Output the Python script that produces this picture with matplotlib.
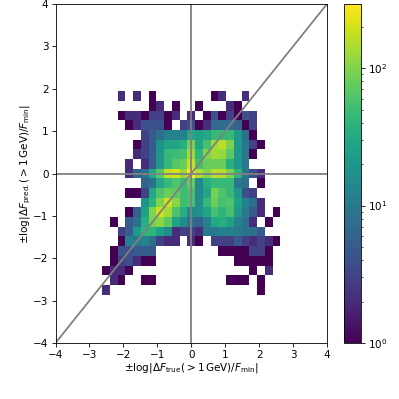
import numpy as np
import matplotlib
matplotlib.use('Agg')
import matplotlib.pyplot as plt
from matplotlib.colors import LogNorm

# 35 bins per axis, rows 9-29 from the top and columns 6-28 are the only filled ones
first_row = 9
first_col = 6
n_bins = 35
counts_rows = [
    [0,0,2,0,2,0,1,0,0,0,0,0,0,0,1,2,0,0,2,0,0,0,0],
    [0,0,0,0,0,0,1,2,0,1,0,0,1,0,0,0,2,1,0,0,0,0,0],
    [0,0,1,2,2,1,3,3,1,2,0,2,0,1,4,1,3,1,4,3,0,0,0],
    [0,0,0,1,2,4,4,4,1,0,3,4,1,2,7,7,7,6,1,3,0,0,0],
    [0,0,0,0,0,3,5,8,12,12,12,30,25,30,45,45,45,20,8,1,0,0,0],
    [0,0,0,0,1,3,5,18,28,28,35,90,28,55,130,160,95,20,10,3,1,0,0],
    [0,0,0,0,2,3,5,20,45,50,55,130,40,100,130,120,70,20,10,1,0,0,0],
    [0,0,0,2,0,2,5,20,45,65,80,180,55,80,80,80,35,20,10,0,0,0,0],
    [0,0,0,2,6,8,30,70,170,200,120,290,150,100,160,160,95,40,10,4,2,0,0],
    [0,0,0,0,0,6,8,30,45,60,45,75,14,35,45,45,45,9,8,0,1,0,0],
    [0,0,0,1,1,3,30,60,80,70,50,55,14,28,90,60,45,20,4,3,0,0,0],
    [0,0,0,0,0,18,40,100,190,110,50,55,17,45,80,55,60,25,12,8,2,0,0],
    [0,0,0,1,6,25,100,190,130,60,35,15,17,28,55,40,55,20,10,5,2,0,1],
    [0,1,0,5,8,35,90,110,70,25,15,8,6,12,30,35,25,12,8,2,0,1,0],
    [0,0,3,5,20,40,40,25,15,2,3,3,2,10,10,12,12,10,8,8,5,0,0],
    [0,0,1,12,10,12,8,3,2,2,0,2,1,0,3,3,3,5,3,2,3,2,1],
    [0,1,4,4,5,5,5,0,0,0,0,0,0,0,0,1,1,1,1,3,3,1,0],
    [0,1,3,4,2,1,1,0,0,0,0,0,0,0,0,0,0,1,1,1,1,1,0],
    [1,2,2,1,0,0,0,0,0,0,0,0,0,0,0,0,0,0,0,1,0,2,0],
    [0,2,1,0,0,1,1,0,0,0,0,0,0,0,0,0,1,1,1,0,1,0,0],
    [2,0,0,0,0,0,0,0,0,0,0,0,0,0,0,0,0,0,0,0,1,0,0],
]
vmin, vmax = 1, 293
ticks = [-4, -3, -2, -1, 0, 1, 2, 3, 4]

plt.rcParams['font.size'] = 7.5

grid = np.zeros((n_bins, n_bins))
sub = np.array(counts_rows, dtype=float)
grid[first_row:first_row + sub.shape[0], first_col:first_col + sub.shape[1]] = sub
grid = np.ma.masked_equal(grid[::-1], 0)
edges = np.linspace(-4, 4, n_bins + 1)

fig = plt.figure(figsize=(3.99, 3.99), dpi=100)
ax = fig.add_axes([55.5/399, 56/399, 271.5/399, 339/399])
mesh = ax.pcolormesh(edges, edges, grid, cmap='viridis', norm=LogNorm(vmin, vmax))

# reference lines
ax.plot([-4, 4], [-4, 4], color='gray', lw=1.3)
ax.axhline(0, color='gray', lw=1.3)
ax.axvline(0, color='gray', lw=1.3)

ax.set_xlim(-4, 4)
ax.set_ylim(-4, 4)
ax.set_xticks(ticks)
ax.set_yticks(ticks)
ax.tick_params(length=2.6, width=0.6, pad=2.5)
for s in ax.spines.values():
    s.set_linewidth(0.6)
ax.set_xlabel(r'$\pm\log|\Delta F_{\mathrm{true}}(>1\,\mathrm{GeV})/F_{\mathrm{min}}|$', labelpad=0.5)
ax.set_ylabel(r'$\pm\log|\Delta F_{\mathrm{pred.}}(>1\,\mathrm{GeV})/F_{\mathrm{min}}|$', labelpad=0.2)

cax = fig.add_axes([344/399, 56/399, 17/399, 339/399])
cb = fig.colorbar(mesh, cax=cax)
cb.ax.tick_params(which='major', length=2.6, width=0.6, pad=2.5)
cb.ax.tick_params(which='minor', length=1.5, width=0.45)
cb.outline.set_linewidth(0.6)

fig.savefig('out.png', dpi=100)
